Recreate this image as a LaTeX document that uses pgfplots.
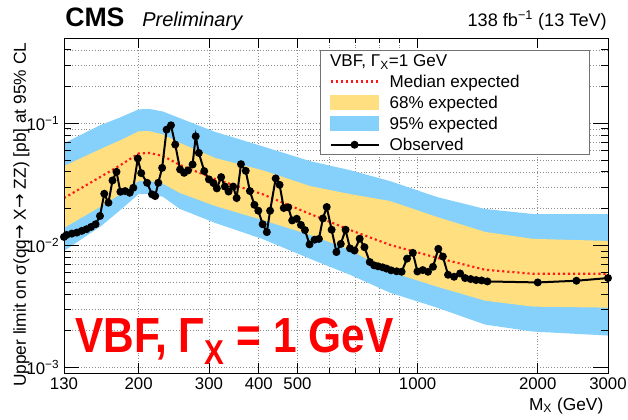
\documentclass[border=0pt]{standalone}
\usepackage{pgfplots}
\pgfplotsset{compat=1.18}
\usepackage{pgfplotstable}
\usepgfplotslibrary{fillbetween}
\usepackage{fontspec}
\setmainfont{Liberation Sans}
\newfontfamily\bannerfont{Liberation Sans}[FakeStretch=0.86]
\newfontfamily\arrowfont{DejaVu Sans}
\newcommand{\ra}{{\arrowfont →}}

\definecolor{band68}{RGB}{255,223,127}
\definecolor{band95}{RGB}{133,209,251}
\definecolor{medred}{RGB}{255,24,24}

% Observed limit
\pgfplotstableread{
M obs
130 0.01173
132 0.01218
136 0.01248
140 0.01272
144 0.01314
148 0.01356
152 0.01416
156 0.0149
160 0.01741
164 0.02648
168 0.02236
172 0.03405
176 0.04003
180 0.02749
185 0.02786
190 0.02698
194 0.02963
199 0.0515
203 0.03907
210 0.03256
216 0.02618
220 0.02535
224 0.03256
229 0.04315
235 0.0888
241 0.0963
247 0.0670
254 0.04188
260 0.03929
266 0.0411
273 0.04601
278 0.0783
283 0.05722
292 0.04057
300 0.03471
308 0.03237
314 0.0293
322 0.03624
329 0.03031
336 0.0276
345 0.03031
352 0.02442
361 0.04627
371 0.0408
380 0.02786
390 0.02149
399 0.01923
409 0.0149
419 0.01284
427 0.01923
441 0.03537
451 0.03135
462 0.02023
474 0.0205
485 0.016
498 0.01652
510 0.0147
522 0.01333
536 0.01019
552 0.01113
566 0.0113
579 0.01661
592 0.02062
609 0.01343
626 0.008817
642 0.01028
660 0.01343
677 0.009451
695 0.00907
716 0.01134
736 0.009667
759 0.007307
778 0.006866
796 0.006739
817 0.006613
836 0.006453
858 0.00625
886 0.006134
912 0.006077
941 0.007787
973 0.008685
999 0.006111
1030 0.006274
1062 0.006077
1093 0.006676
1127 0.009364
1157 0.008101
1192 0.005743
1234 0.005531
1278 0.005885
1315 0.005398
1358 0.005297
1401 0.005198
1447 0.00516
1496 0.005063
2000 0.004969
2500 0.00513
3000 0.005398
}\obstable

% Expected limit: median, 68% and 95% bands
\pgfplotstableread{
M med lo1 hi1 lo2 hi2
130 0.0244 0.0139 0.04457 0.009018 0.06866
160 0.0362 0.02062 0.0613 0.01416 0.0963
180 0.0454 0.02633 0.07265 0.01949 0.1119
200 0.0566 0.03361 0.08604 0.02633 0.1301
213 0.0572 0.0338 0.0862 0.0264 0.1310
230 0.0540 0.0320 0.0810 0.0250 0.1250
254 0.0455 0.02683 0.0690 0.01986 0.1100
311 0.0349 0.02102 0.05200 0.01527 0.08500
408 0.02633 0.01615 0.04133 0.0113 0.06491
538 0.01807 0.01218 0.03059 0.00776 0.04896
677 0.01338 0.00919 0.02633 0.005743 0.04133
853 0.01009 0.006077 0.02308 0.004095 0.03361
1119 0.00791 0.004585 0.01708 0.003089 0.02489
1476 0.00631 0.003523 0.01289 0.002244 0.01986
1947 0.00585 0.003147 0.0113 0.001967 0.01807
3000 0.00585 0.003089 0.01088 0.001825 0.01807
}\exptable

\pgfplotsset{
  layers/limits/.define layer set={
    axis background,axis grid,pre main,main,axis ticks,axis lines,
    axis tick labels,axis descriptions,axis foreground
  }{
    grid style={/pgfplots/on layer=axis grid},
    tick style={/pgfplots/on layer=axis ticks},
    axis line style={/pgfplots/on layer=axis lines},
    label style={/pgfplots/on layer=axis descriptions},
    legend style={/pgfplots/on layer=axis descriptions},
    ticklabel style={/pgfplots/on layer=axis tick labels},
  },
  lineleg/.style={legend image code/.code={\draw[##1] (0pt,0pt) -- (36pt,0pt);}},
  arealeg/.style={legend image code/.code={\fill[##1] (0pt,-5.25pt) rectangle (36pt,5.25pt);}},
  obsleg/.style={legend image code/.code={\draw[##1,mark repeat=2,mark phase=2] plot coordinates {(0pt,0pt) (18pt,0pt) (36pt,0pt)};}},
  headleg/.style={legend image code/.code={\node[overlay,anchor=west,inner sep=0pt,text height=10.5pt,text depth=1.3pt] at (-0.75pt,0pt) {VBF, Γ\textsubscript{X}=1 GeV};}},
}

\begin{document}
\begin{tikzpicture}
\begin{axis}[
  name=ax,
  set layers=limits,
  clip mode=individual,
  scale only axis, width=408pt, height=251.25pt,
  xmode=log, ymode=log,
  xmin=130, xmax=3000, ymin=0.0009, ymax=0.5,
  xtick={130,200,300,400,500,1000,2000,3000},
  xticklabels={130,200,300,400,500,1000,2000,3000},
  minor xtick={600,700,800,900},
  ytick={0.001,0.01,0.1},
  yticklabels={10\textsuperscript{−3},10\textsuperscript{−2},10\textsuperscript{−1}},
  minor ytick={0.002,0.003,0.004,0.005,0.006,0.007,0.008,0.009,
               0.02,0.03,0.04,0.05,0.06,0.07,0.08,0.09,0.2,0.3,0.4},
  tick pos=both, tick align=inside,
  xtick style={/pgfplots/major tick length=7.5pt,/pgfplots/minor tick length=3.75pt},
  ytick style={/pgfplots/major tick length=11pt,/pgfplots/minor tick length=5.6pt},
  tick style={black, line width=0.6pt},
  grid=both,
  major grid style={black!45, line width=0.45pt, dash pattern=on 0.6pt off 1.5pt},
  minor grid style={black!45, line width=0.45pt, dash pattern=on 0.6pt off 1.5pt},
  axis line style={black, line width=0.75pt},
  ticklabel style={font=\fontsize{12.6}{14}\selectfont},
  xlabel={M\textsubscript{X} (GeV)},
  ylabel={Upper limit on σ(qq\ra{} X\ra{} ZZ) [pb] at 95\% CL},
  label style={font=\fontsize{13}{15}\selectfont},
  xlabel style={at={([yshift=-27.75pt]axis description cs:1,0)}, anchor=base east},
  ylabel style={at={([xshift=-28.5pt]axis description cs:0,1)}, anchor=base east},
  legend cell align=left,
  legend style={
    at={(0.4706,0.9642)}, anchor=north west,
    draw=black!55, line width=0.75pt, fill=white,
    font=\fontsize{12.8}{15}\selectfont,
    inner xsep=6.75pt, inner ysep=1.6pt, row sep=4pt,
    nodes={inner sep=0pt, text height=10.5pt, text depth=1.3pt},
    /tikz/every odd column/.append style={column sep=7.5pt},
  },
]
% expected bands
\addplot[name path=hitwo, draw=none, forget plot] table[x=M, y=hi2] {\exptable};
\addplot[name path=lotwo, draw=none, forget plot] table[x=M, y=lo2] {\exptable};
\addplot[fill=band95, draw=none, forget plot] fill between[of=hitwo and lotwo];
\addplot[name path=hione, draw=none, forget plot] table[x=M, y=hi1] {\exptable};
\addplot[name path=loone, draw=none, forget plot] table[x=M, y=lo1] {\exptable};
\addplot[fill=band68, draw=none, forget plot] fill between[of=hione and loone];
% median expected
\addplot[medred, line width=1.6pt, dash pattern=on 1.6pt off 2.2pt, forget plot]
  table[x=M, y=med] {\exptable};
% observed
\addplot[black, line width=1.5pt, mark=*, mark size=2.2pt, forget plot]
  table[x=M, y=obs] {\obstable};

\addlegendimage{headleg}
\addlegendentry{}
\addlegendimage{lineleg, medred, line width=1.6pt, dash pattern=on 1.6pt off 2.2pt}
\addlegendentry{Median expected\hspace*{46pt}}
\addlegendimage{arealeg, band68}
\addlegendentry{68\% expected}
\addlegendimage{arealeg, band95}
\addlegendentry{95\% expected}
\addlegendimage{obsleg, black, line width=1.5pt, mark=*, mark size=2.2pt}
\addlegendentry{Observed}
\end{axis}

\node[anchor=base west, inner sep=0pt, font=\fontsize{20}{24}\selectfont\bfseries]
  at ([xshift=0.75pt,yshift=9pt]ax.north west) {CMS};
\node[anchor=base west, inner sep=0pt, font=\fontsize{15}{18}\selectfont\itshape]
  at ([xshift=58.5pt,yshift=9pt]ax.north west) {Preliminary};
\node[anchor=base east, inner sep=0pt, font=\fontsize{13.6}{16}\selectfont]
  at ([xshift=-0.75pt,yshift=9pt]ax.north east) {138 fb\textsuperscript{−1} (13 TeV)};
\node[anchor=base west, inner sep=0pt, text=red]
  at ([xshift=8.25pt,yshift=15.75pt]ax.south west)
  {\bannerfont\bfseries\fontsize{37}{44}\selectfont VBF, Γ\textsubscript{X} = 1 GeV};

\pgfresetboundingbox
\path[use as bounding box] ([xshift=-48pt,yshift=-34.5pt]ax.south west)
  rectangle ([xshift=15pt,yshift=28.5pt]ax.north east);
\end{tikzpicture}
\end{document}
